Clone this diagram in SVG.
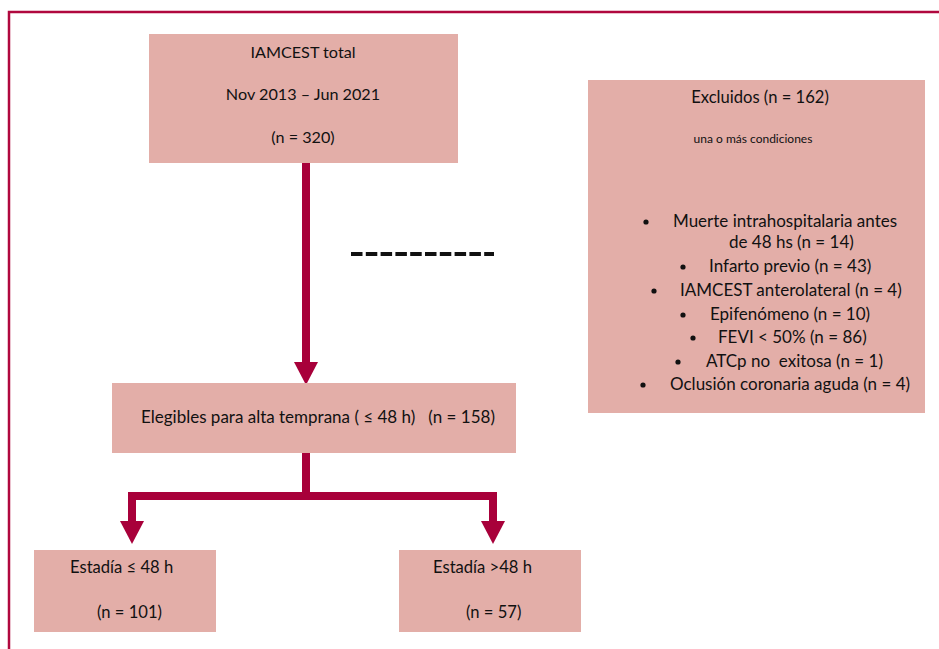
<svg xmlns="http://www.w3.org/2000/svg" width="939" height="649" viewBox="0 0 939 649">
<style>
.box{fill:#E3AEA8;}
.t{font-family:Lato,"Open Sans","Liberation Sans",sans-serif;font-size:17px;fill:#111;white-space:pre;}
.m{font-size:16.2px;}
.b{font-size:16.6px;}
.c{text-anchor:middle;}
.s{font-size:12px;}
.wire{stroke:#A8003A;stroke-width:8;fill:none;}
.head{fill:#A8003A;}
.dot{fill:#111;}
.frame{stroke:#B0083E;stroke-width:2.5;fill:none;}
</style>
<rect width="939" height="649" fill="#fff"/>
<path class="frame" d="M939 12 H9 V649"/>
<g id="connectors">
<line class="wire" x1="306" y1="163" x2="306" y2="364"/>
<polygon class="head" points="294,362 318,362 306,385"/>
<path class="wire" d="M306 453 V496 M132 496 H493 M132 492 V524 M493 492 V524"/>
<polygon class="head" points="120,521 144,521 132,544"/>
<polygon class="head" points="481,521 505,521 493,544"/>
<line x1="351" y1="254" x2="494" y2="254" stroke="#111" stroke-width="4" stroke-dasharray="11.5 3.3"/>
</g>
<g id="total">
<rect class="box" x="149" y="34" width="309" height="129"/>
<text class="t m c" x="303" y="58">IAMCEST total</text>
<text class="t m c" x="303" y="100">Nov 2013 – Jun 2021</text>
<text class="t m c" x="303" y="143">(n = 320)</text>
</g>
<g id="excluidos">
<rect class="box" x="588" y="80" width="337" height="333"/>
<text class="t b c" x="760" y="103">Excluidos (n = 162)</text>
<text class="t s c" x="753" y="143">una o más condiciones</text>
<circle class="dot" cx="646" cy="222" r="2.6"/>
<circle class="dot" cx="683" cy="267" r="2.6"/>
<circle class="dot" cx="654" cy="291" r="2.6"/>
<circle class="dot" cx="683" cy="315" r="2.6"/>
<circle class="dot" cx="693" cy="338" r="2.6"/>
<circle class="dot" cx="678" cy="362" r="2.6"/>
<circle class="dot" cx="643" cy="385" r="2.6"/>
<text class="t" x="673" y="227">Muerte intrahospitalaria antes</text>
<text class="t" x="729" y="248">de 48 hs (n = 14)</text>
<text class="t" x="709" y="272">Infarto previo (n = 43)</text>
<text class="t" x="680" y="296">IAMCEST anterolateral (n = 4)</text>
<text class="t" x="710" y="320">Epifenómeno (n = 10)</text>
<text class="t" x="718" y="343">FEVI &lt; 50% (n = 86)</text>
<text class="t" x="706" y="367">ATCp no  exitosa (n = 1)</text>
<text class="t" x="670" y="390">Oclusión coronaria aguda (n = 4)</text>
</g>
<g id="elegibles">
<rect class="box" x="112" y="383" width="404" height="70"/>
<text class="t" x="141" y="423">Elegibles para alta temprana ( ≤ 48 h)   (n = 158)</text>
</g>
<g id="estadia-corta">
<rect class="box" x="34" y="550" width="182" height="82"/>
<text class="t b" x="70" y="573">Estadía ≤ 48 h</text>
<text class="t b" x="97" y="618">(n = 101)</text>
</g>
<g id="estadia-larga">
<rect class="box" x="399" y="550" width="182" height="82"/>
<text class="t b" x="433" y="573">Estadía &gt;48 h</text>
<text class="t b" x="466" y="618">(n = 57)</text>
</g>
</svg>
